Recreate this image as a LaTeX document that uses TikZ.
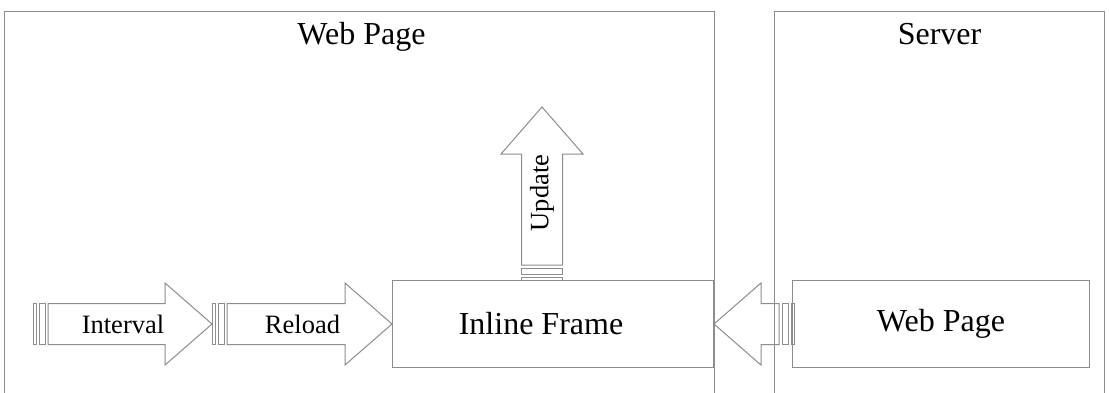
\documentclass[tikz,border=0pt]{standalone}
\usepackage{fontspec}
\setmainfont{Liberation Serif}
\usetikzlibrary{positioning,calc}
\definecolor{linegray}{RGB}{140,140,140}
\tikzset{
  box/.style={draw=linegray, line width=1pt, anchor=north west, inner sep=0pt},
  bigtext/.style={font=\fontsize{32}{37}\selectfont},
  arrowlabel/.style={font=\fontsize{26.5}{30}\selectfont},
  arrowline/.style={draw=linegray, line width=1pt},
  % striped block arrow, tip at the origin, pointing along +x
  pics/stripearrow/.style 2 args={code={
    \draw[arrowline] (0,0) -- (-47,41) -- (-47,20.5) -- (-#1,20.5) -- (-#1,-20.5)
      -- (-47,-20.5) -- (-47,-41) -- cycle;
    \draw[arrowline] (-#1-3,20.5) rectangle (-#1-9,-20.5);
    \draw[arrowline] (-#1-12,20.5) rectangle (-#1-15,-20.5);
    \coordinate (-tail) at (-#1-15,0);
    \node[arrowlabel] at (-#1/2-7,0) {#2};
  }}
}
\begin{document}
\begin{tikzpicture}[x=1pt,y=-1pt]
  \clip (0,0) rectangle (1109,392);

  % panels
  \node[box, minimum width=710, minimum height=420] (page) at (4,11) {};
  \node[box, minimum width=330, minimum height=420] (server) at (774,11) {};
  \node[bigtext, anchor=base] (pagetitle) at ($(page.north)+(2,33)$) {Web Page};
  \node[bigtext, anchor=base] (servertitle) at ($(server.north)+(0,33)$) {Server};

  % boxes
  \node[box, bigtext, minimum width=321, minimum height=87] (iframe) at (392,280) {};
  \node[bigtext] at ($(iframe.center)+(-12,0)$) {Inline Frame};
  \node[box, bigtext, minimum width=297, minimum height=87] (srvpage) at (792,280) {};
  \node[bigtext] at (srvpage.center) {Web Page};

  % arrows
  \pic (rl) at (iframe.west) {stripearrow={165}{Reload}};
  \pic (iv) at (rl-tail) {stripearrow={164}{Interval}};
  \pic[rotate=180] (sv) at (iframe.east) {stripearrow={65}{}};
  \coordinate (updtip) at ($(iframe.north)+(-11,-173)$);
  \pic[rotate=90, transform shape] (up) at (updtip) {stripearrow={158}{Update}};
\end{tikzpicture}
\end{document}
